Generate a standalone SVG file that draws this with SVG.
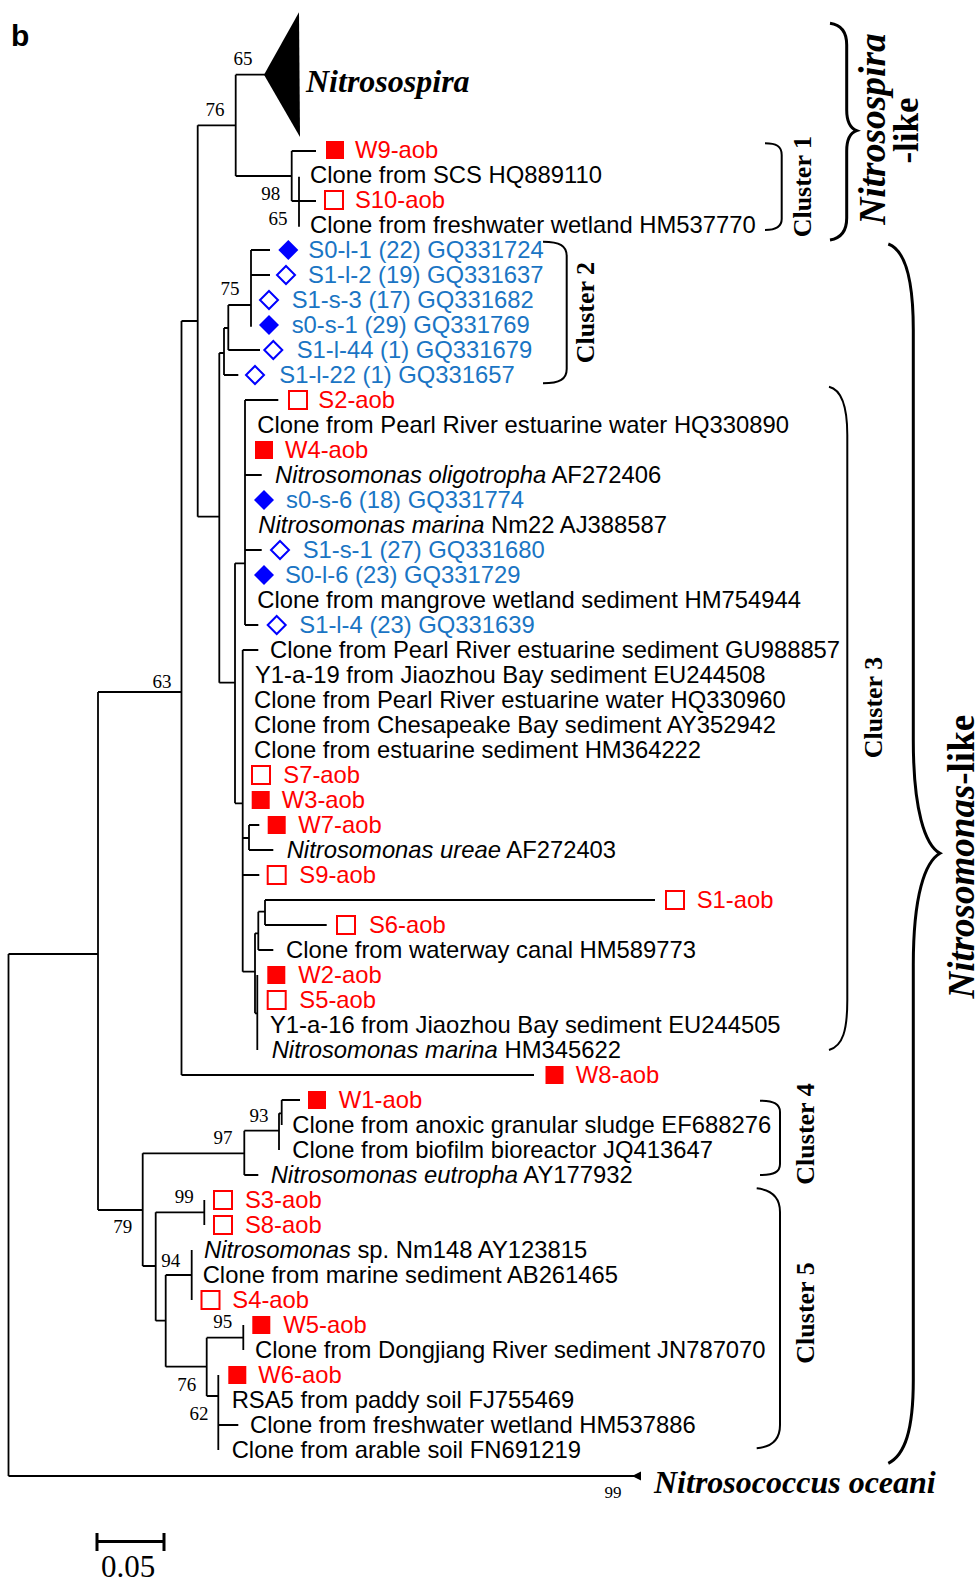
<svg xmlns="http://www.w3.org/2000/svg" width="979" height="1581" viewBox="0 0 979 1581">
<style>
.t{font-family:"Liberation Sans",Arial,sans-serif;font-size:23.8px;fill:#000}
.r{fill:#ff0000}
.b{fill:#1a75c4}
.i{font-style:italic}
.bs{font-family:"Liberation Serif","Times New Roman",serif;font-size:19px;fill:#000;text-anchor:middle}
.big{font-family:"Liberation Serif","Times New Roman",serif;font-weight:bold;fill:#000}
.tree{stroke:#000;stroke-width:1.8;fill:none}
.br{fill:none;stroke:#000;stroke-width:2}
.brc{fill:none;stroke:#000;stroke-width:3}
.sqf{fill:#ff0000}
.sqo{fill:none;stroke:#ff0000;stroke-width:2}
.dif{fill:#0000ff}
.dio{fill:none;stroke:#0000ff;stroke-width:2}
</style>
<defs>
<rect id="sq" x="0" y="-9" width="18" height="18"/>
<path id="dm" d="M0,-10 L10,0 L0,10 L-10,0 Z"/>
<path id="dmo" d="M0,-9 L9,0 L0,9 L-9,0 Z"/>
</defs>
<rect width="979" height="1581" fill="#fff"/>
<text x="11" y="46" style="font-family:'Liberation Sans',Arial,sans-serif;font-weight:bold;font-size:30px">b</text>

<g id="connectors" class="tree">
<path d="M8.5,954 V1476 M8.5,954 H98 M8.5,1476 H634"/>
<path d="M98,692 V1210 M98,692 H181.5 M98,1210 H142.7"/>
<path d="M181.5,321 V1075 M181.5,1075 H534 M181.5,321 H197.7"/>
<path d="M197.7,125.3 V516.7 M197.7,125.3 H235.7 M197.7,516.7 H219.3"/>
<path d="M235.7,74.7 V176 M235.7,74.7 H265 M235.7,176 H291.7"/>
<path d="M291.7,151 V201 M291.7,151 H316 M291.7,201 H316 M299,176.7 V226.7"/>
<path d="M219.3,353 V682.7 M219.3,353 H224 M219.3,682.7 H235"/>
<path d="M224,328 V375 M224,375 H238.3 M224,328 H228.3"/>
<path d="M228.3,305 V350 M228.3,305 H251 M228.3,350 H260"/>
<path d="M251,250 V326.7 M251,250 H270 M251,275 H270"/>
<path d="M235,563.3 V803.3 M235,563.3 H245"/>
<path d="M245,400 V625 M245,400 H278.3 M245,475 H261.7 M245,550 H261.7 M245,625 H258.3"/>
<path d="M235,803.3 H242.7 M242.7,650 V971.7 M242.7,650 H258.3"/>
<path d="M242.7,838 H249 M249,825 V850 M249,825 H259.3 M249,850 H273.3 M242.7,875 H259.3"/>
<path d="M242.7,971.7 H255 M255,933.3 V1013.3 M255,933.3 H258.3 M255,1013.3 H257.3"/>
<path d="M258.3,911.7 V950 M258.3,911.7 H265 M258.3,950 H273.3"/>
<path d="M265,900 V925 M265,900 H655 M265,925 H326.7 M257.3,975 V1050"/>
<path d="M142.7,1153.3 V1266 M142.7,1153.3 H244.3 M142.7,1266 H155.7"/>
<path d="M244.3,1130.7 V1175 M244.3,1130.7 H279 M244.3,1175 H258.3"/>
<path d="M279,1113.3 V1150 M281.7,1100 V1125 M279,1113.3 H281.7 M281.7,1100 H300"/>
<path d="M155.7,1212.3 V1320.7 M155.7,1212.3 H204.3 M204.3,1200 V1225"/>
<path d="M155.7,1320.7 H165.7 M165.7,1275 V1366.7 M165.7,1275 H191.7 M191.7,1250 V1300"/>
<path d="M165.7,1366.7 H206.7 M206.7,1337.7 V1396 M206.7,1337.7 H243.3 M243.3,1325 V1350"/>
<path d="M206.7,1396 H218.3 M218.3,1375 V1450 M218.3,1425 H238.3"/>
<path d="M632,1476 L641,1471.5 L641,1480.5 Z" fill="#000" stroke="none"/>
</g>

<g id="bootstrap">
<text class="bs" x="243" y="64.5">65</text>
<text class="bs" x="215" y="115.5">76</text>
<text class="bs" x="270.7" y="199.5">98</text>
<text class="bs" x="278" y="224.5">65</text>
<text class="bs" x="230" y="294.8">75</text>
<text class="bs" x="162" y="687.5">63</text>
<text class="bs" x="259" y="1121.5">93</text>
<text class="bs" x="223" y="1143.5">97</text>
<text class="bs" x="184.3" y="1203.2">99</text>
<text class="bs" x="122.7" y="1233.2">79</text>
<text class="bs" x="170.7" y="1266.5">94</text>
<text class="bs" x="222.7" y="1327.5">95</text>
<text class="bs" x="186.7" y="1390.5">76</text>
<text class="bs" x="199" y="1419.8">62</text>
<text class="bs" x="613" y="1498" style="font-size:17px">99</text>
</g>

<g id="nitrosospira">
<path d="M264,74.7 L299,12.3 L300,137 Z" fill="#000"/>
<text class="big i" x="306" y="91.5" font-size="32">Nitrosospira</text>
</g>

<g id="leaves" class="t">
<g id="W9"><use href="#sq" class="sqf" x="326" y="150"/><text class="r" x="355" y="158">W9-aob</text></g>
<g id="SCS"><text x="310" y="183">Clone from SCS HQ889110</text></g>
<g id="S10"><use href="#sq" class="sqo" x="325" y="200"/><text class="r" x="355" y="208">S10-aob</text></g>
<g id="HM537770"><text x="310" y="233">Clone from freshwater wetland HM537770</text></g>
<g id="S0-l-1"><use href="#dm" class="dif" x="288.3" y="250"/><text class="b" x="308.3" y="258">S0-l-1 (22) GQ331724</text></g>
<g id="S1-l-2"><use href="#dmo" class="dio" x="286" y="275"/><text class="b" x="308" y="283">S1-l-2 (19) GQ331637</text></g>
<g id="S1-s-3"><use href="#dmo" class="dio" x="269" y="300"/><text class="b" x="291.7" y="308">S1-s-3 (17) GQ331682</text></g>
<g id="s0-s-1"><use href="#dm" class="dif" x="269" y="325"/><text class="b" x="291.7" y="333">s0-s-1 (29) GQ331769</text></g>
<g id="S1-l-44"><use href="#dmo" class="dio" x="273.3" y="350"/><text class="b" x="296.7" y="358">S1-l-44 (1) GQ331679</text></g>
<g id="S1-l-22"><use href="#dmo" class="dio" x="255" y="375"/><text class="b" x="279.3" y="383">S1-l-22 (1) GQ331657</text></g>
<g id="S2"><use href="#sq" class="sqo" x="289" y="400"/><text class="r" x="318.3" y="408">S2-aob</text></g>
<g id="HQ330890"><text x="257.3" y="433">Clone from Pearl River estuarine water HQ330890</text></g>
<g id="W4"><use href="#sq" class="sqf" x="255" y="450"/><text class="r" x="285" y="458">W4-aob</text></g>
<g id="AF272406"><text x="275" y="483"><tspan class="i">Nitrosomonas oligotropha</tspan> AF272406</text></g>
<g id="s0-s-6"><use href="#dm" class="dif" x="264" y="500"/><text class="b" x="286" y="508">s0-s-6 (18) GQ331774</text></g>
<g id="AJ388587"><text x="258.3" y="533"><tspan class="i">Nitrosomonas marina</tspan> Nm22 AJ388587</text></g>
<g id="S1-s-1"><use href="#dmo" class="dio" x="280" y="550"/><text class="b" x="302.7" y="558">S1-s-1 (27) GQ331680</text></g>
<g id="S0-l-6"><use href="#dm" class="dif" x="264" y="575"/><text class="b" x="285" y="583">S0-l-6 (23) GQ331729</text></g>
<g id="HM754944"><text x="257.3" y="608">Clone from mangrove wetland sediment HM754944</text></g>
<g id="S1-l-4"><use href="#dmo" class="dio" x="276.7" y="625"/><text class="b" x="299.3" y="633">S1-l-4 (23) GQ331639</text></g>
<g id="GU988857"><text x="270" y="658">Clone from Pearl River estuarine sediment GU988857</text></g>
<g id="EU244508"><text x="255" y="683">Y1-a-19 from Jiaozhou Bay sediment EU244508</text></g>
<g id="HQ330960"><text x="254" y="708">Clone from Pearl River estuarine water HQ330960</text></g>
<g id="AY352942"><text x="254" y="733">Clone from Chesapeake Bay sediment AY352942</text></g>
<g id="HM364222"><text x="254" y="758">Clone from estuarine sediment HM364222</text></g>
<g id="S7"><use href="#sq" class="sqo" x="252" y="775"/><text class="r" x="283.3" y="783">S7-aob</text></g>
<g id="W3"><use href="#sq" class="sqf" x="251.7" y="800"/><text class="r" x="281.7" y="808">W3-aob</text></g>
<g id="W7"><use href="#sq" class="sqf" x="267.7" y="825"/><text class="r" x="298.3" y="833">W7-aob</text></g>
<g id="AF272403"><text x="286.7" y="858"><tspan class="i">Nitrosomonas ureae</tspan> AF272403</text></g>
<g id="S9"><use href="#sq" class="sqo" x="267.7" y="875"/><text class="r" x="299.3" y="883">S9-aob</text></g>
<g id="S1"><use href="#sq" class="sqo" x="666" y="900"/><text class="r" x="696.7" y="908">S1-aob</text></g>
<g id="S6"><use href="#sq" class="sqo" x="337" y="925"/><text class="r" x="369" y="933">S6-aob</text></g>
<g id="HM589773"><text x="286" y="958">Clone from waterway canal HM589773</text></g>
<g id="W2"><use href="#sq" class="sqf" x="267.3" y="975"/><text class="r" x="298.3" y="983">W2-aob</text></g>
<g id="S5"><use href="#sq" class="sqo" x="267.7" y="1000"/><text class="r" x="299.3" y="1008">S5-aob</text></g>
<g id="EU244505"><text x="270" y="1033">Y1-a-16 from Jiaozhou Bay sediment EU244505</text></g>
<g id="HM345622"><text x="271.7" y="1058"><tspan class="i">Nitrosomonas marina</tspan> HM345622</text></g>
<g id="W8"><use href="#sq" class="sqf" x="545.5" y="1075"/><text class="r" x="575.8" y="1083">W8-aob</text></g>
<g id="W1"><use href="#sq" class="sqf" x="308" y="1100"/><text class="r" x="338.8" y="1108">W1-aob</text></g>
<g id="EF688276"><text x="292.3" y="1133">Clone from anoxic granular sludge EF688276</text></g>
<g id="JQ413647"><text x="292.3" y="1158">Clone from biofilm bioreactor JQ413647</text></g>
<g id="AY177932"><text x="270.7" y="1183"><tspan class="i">Nitrosomonas eutropha</tspan> AY177932</text></g>
<g id="S3"><use href="#sq" class="sqo" x="214" y="1200"/><text class="r" x="245" y="1208">S3-aob</text></g>
<g id="S8"><use href="#sq" class="sqo" x="214" y="1225"/><text class="r" x="245" y="1233">S8-aob</text></g>
<g id="AY123815"><text x="204" y="1258"><tspan class="i">Nitrosomonas</tspan> sp. Nm148 AY123815</text></g>
<g id="AB261465"><text x="202.7" y="1283">Clone from marine sediment AB261465</text></g>
<g id="S4"><use href="#sq" class="sqo" x="201.5" y="1300"/><text class="r" x="232.3" y="1308">S4-aob</text></g>
<g id="W5"><use href="#sq" class="sqf" x="252.3" y="1325"/><text class="r" x="283.3" y="1333">W5-aob</text></g>
<g id="JN787070"><text x="255" y="1358">Clone from Dongjiang River sediment JN787070</text></g>
<g id="W6"><use href="#sq" class="sqf" x="228.3" y="1375"/><text class="r" x="258.3" y="1383">W6-aob</text></g>
<g id="FJ755469"><text x="231.7" y="1408">RSA5 from paddy soil FJ755469</text></g>
<g id="HM537886"><text x="250" y="1433">Clone from freshwater wetland HM537886</text></g>
<g id="FN691219"><text x="231.7" y="1458">Clone from arable soil FN691219</text></g>
</g>

<g id="nitrosococcus">
<text class="big i" x="654" y="1493" font-size="32">Nitrosococcus oceani</text>
</g>

<g id="brackets">
<path class="br" d="M765,143.3 C776,143.3 781.7,146 781.7,155 V219 C781.7,227 776,230 765,230"/>
<path class="br" d="M543,241.7 C560,241.7 566.7,246 566.7,256 V369 C566.7,379 560,383.3 543,383.3"/>
<path class="br" d="M829,386.7 C843,390 847.3,410 847.3,435 V1000 C847.3,1030 843,1046 829,1050"/>
<path class="br" d="M760,1100.7 C774,1100.7 780,1104 780,1112 V1164 C780,1172 774,1175 760,1175"/>
<path class="br" d="M756.7,1188.3 C772,1190 780,1198 780,1212 V1425 C780,1440 772,1447 756.7,1448.3"/>
<path class="brc" d="M830,23.3 C842,25 846.7,33 846.7,45 V110 C846.7,122 850,128 856.7,130.7 C850,133 846.7,139 846.7,151 V218 C846.7,230 842,238 830,240"/>
<path class="brc" d="M888.3,244 C905,250 913.3,280 913.3,330 V740 C913.3,810 925,845 940,853.3 C925,862 913.3,895 913.3,965 V1380 C913.3,1430 905,1455 888.3,1463.3"/>
</g>

<g id="cluster-labels" class="big" font-size="26" text-anchor="middle">
<text transform="translate(810.5,186.7) rotate(-90)">Cluster 1</text>
<text transform="translate(594,312.6) rotate(-90)">Cluster 2</text>
<text transform="translate(882,707.5) rotate(-90)">Cluster 3</text>
<text transform="translate(814,1134) rotate(-90)">Cluster 4</text>
<text transform="translate(814,1313) rotate(-90)">Cluster 5</text>
</g>

<g id="group-labels" class="big" text-anchor="middle">
<text transform="translate(885,129) rotate(-90)" font-size="37.5" font-style="italic">Nitrosospira</text>
<text transform="translate(918,130.5) rotate(-90)" font-size="35">-like</text>
<text transform="translate(974,856.7) rotate(-90)" font-size="37"><tspan font-style="italic">Nitrosomonas</tspan>-like</text>
</g>

<g id="scale">
<path d="M97,1541.5 H164 M97,1533 V1551 M164,1533 V1551" stroke="#000" stroke-width="3" fill="none"/>
<text x="128" y="1577" text-anchor="middle" style="font-family:'Liberation Serif','Times New Roman',serif;font-size:31px">0.05</text>
</g>
</svg>
